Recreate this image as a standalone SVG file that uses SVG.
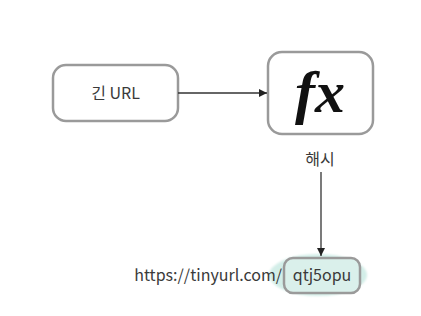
<svg xmlns="http://www.w3.org/2000/svg" width="421" height="316" viewBox="0 0 421 316">
  <defs>
    <marker id="arrow" viewBox="0 0 10 10" refX="10" refY="5" markerWidth="8" markerHeight="8" markerUnits="userSpaceOnUse" orient="auto">
      <path d="M0,0 L10,5 L0,10 z" fill="#222"/>
    </marker>
    <filter id="soft" x="-20%" y="-20%" width="140%" height="140%">
      <feGaussianBlur stdDeviation="1.2"/>
    </filter>
  </defs>
  <style>
    .box { fill: #fff; stroke: #9a9a9a; stroke-width: 2.5; }
    .lbl { font-family: "Noto Sans CJK KR", "Noto Sans", sans-serif; font-size: 16px; fill: #3a3a3a; }
    .fx { font-family: "Liberation Serif", serif; font-style: italic; font-weight: bold; font-size: 60px; fill: #111; }
    .edge { stroke: #333; stroke-width: 1.3; fill: none; }
  </style>
  <rect width="421" height="316" fill="#fff"/>

  <g id="long-url">
    <rect class="box" x="53" y="65" width="125" height="56" rx="13"/>
    <text class="lbl" x="115.5" y="99" text-anchor="middle">긴 URL</text>
  </g>

  <g id="hash">
    <rect class="box" x="268" y="52" width="105" height="82" rx="14"/>
    <text class="fx" x="320" y="112" text-anchor="middle">fx</text>
    <text class="lbl" x="320" y="165" text-anchor="middle">해시</text>
  </g>

  <g id="short-url">
    <ellipse cx="318" cy="275" rx="49" ry="21" fill="#d3eee8" filter="url(#soft)"/>
    <text class="lbl" x="282" y="281" text-anchor="end">https://tinyurl.com/</text>
    <rect x="284" y="258" width="76" height="35" rx="9" fill="#daf0eb" stroke="#9a9a9a" stroke-width="2.5"/>
    <text class="lbl" x="322" y="281" text-anchor="middle">qtj5opu</text>
  </g>

  <g id="connectors">
    <line class="edge" x1="178" y1="93" x2="267" y2="93" marker-end="url(#arrow)"/>
    <line class="edge" x1="321" y1="172" x2="321" y2="256" marker-end="url(#arrow)"/>
  </g>
</svg>
